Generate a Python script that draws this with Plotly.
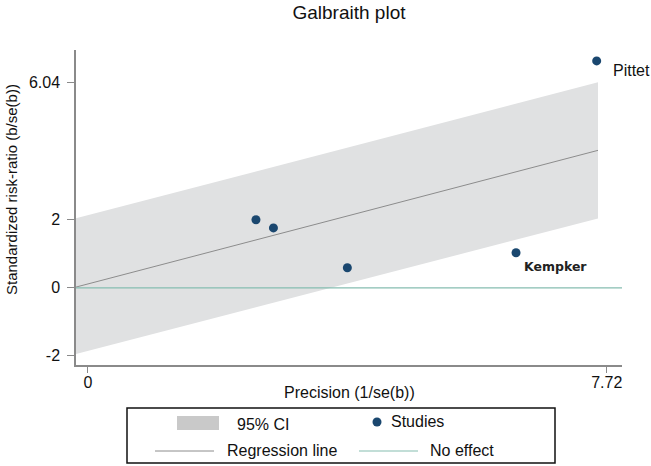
import plotly.graph_objects as go

# Study points (precision vs standardized effect)
precision = [2.50, 2.76, 3.86, 6.37, 7.57]
std_rr = [2.00, 1.76, 0.59, 1.03, 6.67]
study_names = ["", "", "", "Kempker", "Pittet"]

# Regression line and its 95% CI band
band_x = [-0.18, 7.59]
band_upper = [2.04, 6.04]
band_lower = [-1.95, 2.04]
reg_y = [0.02, 4.04]

# No-effect line
null_x = [-0.18, 7.95]
null_y = [0, 0]

x_ticks = [0, 7.72]
x_ticktext = ["0", "7.72"]
y_ticks = [-2, 0, 2, 6.04]
y_ticktext = ["-2", "0", "2", "6.04"]

NAVY = "#1a476f"
BAND = "#e0e1e2"
SWATCH = "#c9c9c9"
REG = "#8c8c8c"
NULLC = "#86bdb0"
AXIS = "#8a8a8a"
FONT = "Arial, Liberation Sans, sans-serif"

# plot area in pixels (for placing layout items)
PL, PR, PT, PB = 76, 622, 50, 365


def px(xp):
    return (xp - PL) / (PR - PL)


def py(yp):
    return (PB - yp) / (PB - PT)


fig = go.Figure()

fig.add_trace(go.Scatter(x=band_x, y=band_lower, mode="lines",
                         line=dict(width=0), showlegend=False, hoverinfo="skip"))
fig.add_trace(go.Scatter(x=band_x, y=band_upper, mode="lines", fill="tonexty",
                         fillcolor=BAND, line=dict(width=0), showlegend=False,
                         hoverinfo="skip"))
fig.add_trace(go.Scatter(x=band_x, y=reg_y, mode="lines",
                         line=dict(color=REG, width=1), showlegend=False))
fig.add_trace(go.Scatter(x=null_x, y=null_y, mode="lines",
                         line=dict(color=NULLC, width=1.2), showlegend=False))
fig.add_trace(go.Scatter(x=precision, y=std_rr, mode="markers",
                         marker=dict(color=NAVY, size=9), showlegend=False))

annotations = []
# study labels
for xv, yv, name in zip(precision, std_rr, study_names):
    if name == "Pittet":
        annotations.append(dict(x=xv, y=yv, xref="x", yref="y", text=name,
                                showarrow=False, xanchor="left", yanchor="middle",
                                xshift=14, yshift=-10,
                                font=dict(family=FONT, size=16, color="#111")))
    elif name == "Kempker":
        annotations.append(dict(x=xv, y=yv, xref="x", yref="y", text="<b>" + name + "</b>",
                                showarrow=False, xanchor="left", yanchor="middle",
                                xshift=6, yshift=-14,
                                font=dict(family="DejaVu Sans", size=12.5, color="#222")))

# axis titles
annotations.append(dict(x=px(349), y=py(392), xref="paper", yref="paper",
                        text="Precision (1/se(b))", showarrow=False,
                        xanchor="center", yanchor="middle",
                        font=dict(family=FONT, size=16, color="#111")))
annotations.append(dict(x=px(11), y=py(190), xref="paper", yref="paper",
                        text="Standardized risk-ratio (b/se(b))", showarrow=False,
                        xanchor="center", yanchor="middle",
                        textangle=-90, font=dict(family=FONT, size=15, color="#111")))

# legend texts
leg_font = dict(family=FONT, size=16, color="#111")
for xp, yp, txt in [(235, 424, "95% CI"), (389, 421, "Studies"),
                    (225, 450, "Regression line"), (428, 450, "No effect")]:
    annotations.append(dict(x=px(xp), y=py(yp), xref="paper", yref="paper",
                            text=txt, showarrow=False, xanchor="left",
                            yanchor="middle", font=leg_font))

shapes = [
    dict(type="rect", xref="paper", yref="paper", x0=px(127), x1=px(555),
         y0=py(463), y1=py(408), line=dict(color="#111", width=1.5)),
    dict(type="rect", xref="paper", yref="paper", x0=px(177), x1=px(219),
         y0=py(430), y1=py(416), fillcolor=SWATCH, line=dict(width=0)),
    dict(type="circle", xref="paper", yref="paper", x0=px(372.5), x1=px(381.5),
         y0=py(426.5), y1=py(417.5), fillcolor=NAVY, line=dict(width=0)),
    dict(type="line", xref="paper", yref="paper", x0=px(155), x1=px(214),
         y0=py(451), y1=py(451), line=dict(color=REG, width=1)),
    dict(type="line", xref="paper", yref="paper", x0=px(359), x1=px(418),
         y0=py(451), y1=py(451), line=dict(color=NULLC, width=1.2)),
]

fig.update_layout(
    width=651, height=466,
    margin=dict(l=PL, r=651 - PR, t=PT, b=466 - PB),
    paper_bgcolor="white", plot_bgcolor="white",
    title=dict(text="Galbraith plot", x=px(349), xref="paper", xanchor="center",
               y=1 - 12 / 466, yref="container", yanchor="middle",
               font=dict(family=FONT, size=19, color="#111")),
    annotations=annotations,
    shapes=shapes,
    showlegend=False,
)

fig.update_xaxes(range=[-0.178, 7.947], showgrid=False, zeroline=False,
                 showline=True, linecolor=AXIS, linewidth=1.5,
                 ticks="outside", ticklen=6, tickcolor=AXIS, tickwidth=1,
                 ticklabelstandoff=-4,
                 tickvals=x_ticks, ticktext=x_ticktext,
                 tickfont=dict(family=FONT, size=16, color="#111"))
fig.update_yaxes(range=[-2.27, 6.99], showgrid=False, zeroline=False,
                 showline=True, linecolor=AXIS, linewidth=1.5,
                 ticks="outside", ticklen=7, tickcolor=AXIS, tickwidth=1,
                 ticklabelstandoff=4,
                 tickvals=y_ticks, ticktext=y_ticktext,
                 tickfont=dict(family=FONT, size=16, color="#111"))

# the page body has an 8px margin by default; drop it so the figure fills the window
fig.write_html("out.html", config={"displayModeBar": False},
               post_script="document.body.style.margin='0';document.body.style.overflow='hidden';")
